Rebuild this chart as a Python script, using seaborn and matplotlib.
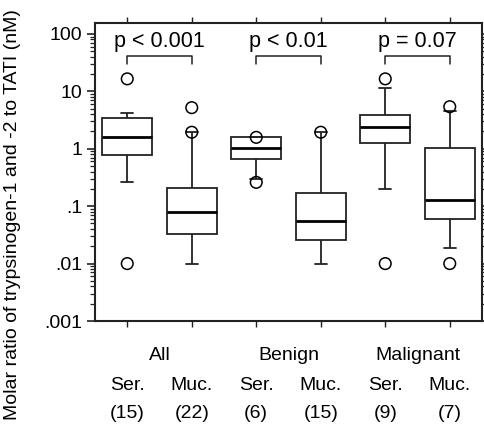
import numpy as np
import pandas as pd
import matplotlib
matplotlib.use("Agg")
from matplotlib import pyplot as plt
from matplotlib import transforms
import seaborn as sns

# box summaries (whisker low, Q1, median, Q3, whisker high)
groups = ["All Ser.", "All Muc.", "Benign Ser.", "Benign Muc.", "Malignant Ser.", "Malignant Muc."]
whis_lo = [0.265, 0.010, 0.30, 0.010, 0.197, 0.019]
q1 = [0.776, 0.033, 0.66, 0.0254, 1.26, 0.059]
median = [1.58, 0.080, 1.03, 0.055, 2.42, 0.128]
q3 = [3.44, 0.211, 1.58, 0.173, 3.93, 1.02]
whis_hi = [4.2, 1.94, 1.58, 1.94, 11.5, 4.5]

# outlier points
out_group = ["All Ser.", "All Ser.", "All Muc.", "All Muc.", "Benign Ser.", "Benign Ser.",
             "Benign Muc.", "Malignant Ser.", "Malignant Ser.", "Malignant Muc.", "Malignant Muc."]
out_value = [16.5, 0.01, 5.2, 1.94, 1.58, 0.26, 1.94, 16.5, 0.01, 5.4, 0.01]

group_labels = ["All", "Benign", "Malignant"]
type_labels = ["Ser.", "Muc.", "Ser.", "Muc.", "Ser.", "Muc."]
n_labels = ["(15)", "(22)", "(6)", "(15)", "(9)", "(7)"]
p_labels = ["p < 0.001", "p < 0.01", "p = 0.07"]

# five points per box: with whis=(0, 100) the box reproduces the summary exactly
rows = []
for g, a, b, c, d, e in zip(groups, whis_lo, q1, median, q3, whis_hi):
    for v in (a, b, c, d, e):
        rows.append({"group": g, "value": v})
box_df = pd.DataFrame(rows)
out_df = pd.DataFrame({"group": out_group, "value": out_value})

sns.set_style("ticks")
plt.rcParams["font.family"] = ["Liberation Sans", "DejaVu Sans"]
plt.rcParams["font.size"] = 14
plt.rcParams["text.color"] = "black"
plt.rcParams["xtick.color"] = "#222222"
plt.rcParams["ytick.color"] = "#222222"
plt.rcParams["xtick.labelcolor"] = "black"
plt.rcParams["ytick.labelcolor"] = "black"

fig = plt.figure(figsize=(4.85, 4.29), dpi=100)
ax = fig.add_axes([95 / 485, 1 - 321 / 429, 387 / 485, 298 / 429])

sns.boxplot(data=box_df, x="group", y="value", order=groups, whis=(0, 100),
            width=0.78, color="white", linecolor="#222222", linewidth=1.3,
            fliersize=0, log_scale=True, capwidths=0.18,
            medianprops=dict(color="black", linewidth=2.0), ax=ax)
sns.scatterplot(data=out_df, x="group", y="value", marker="o", s=70,
                facecolor="none", edgecolor="black", linewidth=1.1, zorder=5, ax=ax)

ax.set_yscale("log")
ax.set_ylim(0.001, 155)
ax.set_xlim(-0.5, 5.5)
ax.set_yticks([0.001, 0.01, 0.1, 1, 10, 100])
ax.set_yticklabels([".001", ".01", ".1", "1", "10", "100"], fontsize=14)
ax.set_xticks(range(6))
ax.set_xticklabels([])
ax.set_xlabel("")
ax.set_ylabel("")

for s in ax.spines.values():
    s.set_visible(True)
    s.set_linewidth(1.5)
    s.set_color("#222222")
ax.tick_params(axis="y", which="major", direction="out", length=6, width=1.2,
               left=True, right=True, pad=3)
ax.tick_params(axis="y", which="minor", direction="out", length=3.5, width=0.9,
               left=True, right=True)
ax.tick_params(axis="x", which="major", direction="out", length=4, width=1,
               top=True, bottom=True)

# significance brackets
for i, p in enumerate(p_labels):
    x0, x1 = 2 * i, 2 * i + 1
    ax.plot([x0, x0, x1, x1], [30, 41, 41, 30], color="#222222", linewidth=1.1)
    ax.text((x0 + x1) / 2, 74, p, ha="center", va="center", fontsize=15.5)

# category labels below the axis
trans = transforms.blended_transform_factory(ax.transData, fig.transFigure)
for i, g in enumerate(group_labels):
    ax.text(2 * i + 0.5, 1 - 355 / 429, g, transform=trans, ha="center", va="center")
for i, (t, n) in enumerate(zip(type_labels, n_labels)):
    ax.text(i, 1 - 385 / 429, t, transform=trans, ha="center", va="center")
    ax.text(i, 1 - 413 / 429, n, transform=trans, ha="center", va="center")

fig.text(13 / 485, 0.5, "Molar ratio of trypsinogen-1 and -2 to TATI (nM)",
         rotation=90, ha="center", va="center", fontsize=14)

fig.savefig("out.png", dpi=100)
